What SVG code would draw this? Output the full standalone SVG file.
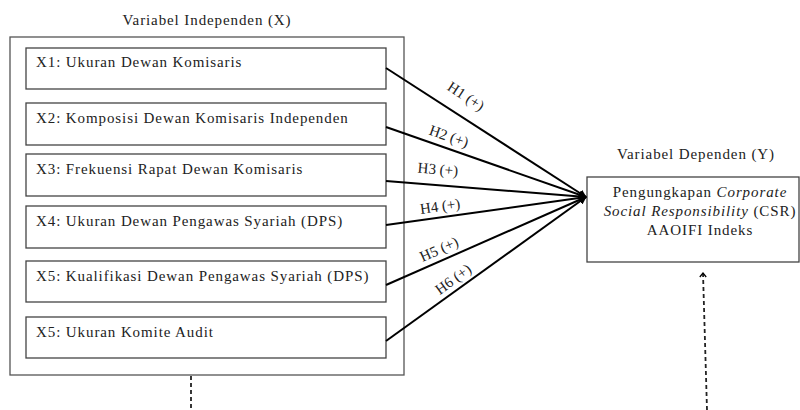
<svg xmlns="http://www.w3.org/2000/svg" width="800" height="410" viewBox="0 0 800 410">
<style>
text{font-family:"Liberation Serif","Times New Roman",serif;fill:#222;}
.t{font-size:15px;letter-spacing:0.9px;}
.h{font-size:15px;text-anchor:middle;}
.box{fill:#fff;stroke:#444;stroke-width:1.3;}
.conn{stroke:#000;stroke-width:2;fill:none;}
.dash{stroke:#222;stroke-width:1.8;stroke-dasharray:4 3;fill:none;}
</style>
<defs>
<marker id="ah" viewBox="0 0 10 10" refX="9" refY="5" markerWidth="4" markerHeight="4" orient="auto" markerUnits="strokeWidth">
<path d="M0,0 L10,5 L0,10 Z" fill="#000"/>
</marker>
<marker id="open" viewBox="0 0 10 10" refX="5" refY="1" markerWidth="8" markerHeight="8" orient="0" markerUnits="userSpaceOnUse">
<path d="M1,6 L5,1 L9,6" fill="none" stroke="#000" stroke-width="1.6"/>
</marker>
</defs>

<g id="independen">
<text class="t" x="207" y="25" text-anchor="middle" letter-spacing="0.5">Variabel Independen (X)</text>
<rect x="10" y="37" width="394" height="338" fill="#fff" stroke="#555" stroke-width="1.3"/>
</g>

<g id="x1"><rect class="box" x="26" y="48" width="360" height="41"/><text class="t" x="36" y="67">X1: Ukuran Dewan Komisaris</text></g>
<g id="x2"><rect class="box" x="26" y="103" width="360" height="42"/><text class="t" x="36" y="123">X2: Komposisi Dewan Komisaris Independen</text></g>
<g id="x3"><rect class="box" x="26" y="154" width="360" height="42"/><text class="t" x="36" y="174">X3: Frekuensi Rapat Dewan Komisaris</text></g>
<g id="x4"><rect class="box" x="26" y="206" width="360" height="42"/><text class="t" x="36" y="226">X4: Ukuran Dewan Pengawas Syariah (DPS)</text></g>
<g id="x5"><rect class="box" x="26" y="261" width="360" height="41"/><text class="t" x="36" y="281">X5: Kualifikasi Dewan Pengawas Syariah (DPS)</text></g>
<g id="x6"><rect class="box" x="26" y="317" width="360" height="41"/><text class="t" x="36" y="337">X5: Ukuran Komite Audit</text></g>

<g id="dependen">
<text class="t" x="696" y="159" text-anchor="middle" letter-spacing="0.5">Variabel Dependen (Y)</text>
<rect class="box" x="587" y="177" width="212" height="85"/>
<text class="t" x="700" y="197" text-anchor="middle" letter-spacing="0.2">Pengungkapan <tspan font-style="italic">Corporate</tspan></text>
<text class="t" x="700" y="216" text-anchor="middle" letter-spacing="0.2"><tspan font-style="italic">Social Responsibility</tspan> (CSR)</text>
<text class="t" x="700" y="235" text-anchor="middle" letter-spacing="0.2">AAOIFI Indeks</text>
</g>

<g id="connectors">
<line class="conn" x1="386" y1="68" x2="586" y2="197" marker-end="url(#ah)"/>
<line class="conn" x1="386" y1="127" x2="586" y2="197" marker-end="url(#ah)"/>
<line class="conn" x1="386" y1="181" x2="586" y2="197" marker-end="url(#ah)"/>
<line class="conn" x1="386" y1="225" x2="586" y2="197" marker-end="url(#ah)"/>
<line class="conn" x1="386" y1="285" x2="586" y2="197" marker-end="url(#ah)"/>
<line class="conn" x1="386" y1="341" x2="586" y2="197" marker-end="url(#ah)"/>
<text class="h" transform="translate(466,96) rotate(33)" dy="0.35em">H1 (+)</text>
<text class="h" transform="translate(449,136) rotate(19)" dy="0.35em">H2 (+)</text>
<text class="h" transform="translate(438,169) rotate(5)" dy="0.35em">H3 (+)</text>
<text class="h" transform="translate(440,206) rotate(-8)" dy="0.35em">H4 (+)</text>
<text class="h" transform="translate(439,249) rotate(-24)" dy="0.35em">H5 (+)</text>
<text class="h" transform="translate(453,279) rotate(-36)" dy="0.35em">H6 (+)</text>
<line class="dash" x1="191" y1="376" x2="191" y2="410"/>
<line class="dash" x1="707" y1="410" x2="703" y2="273" marker-end="url(#open)"/>
</g>
</svg>
